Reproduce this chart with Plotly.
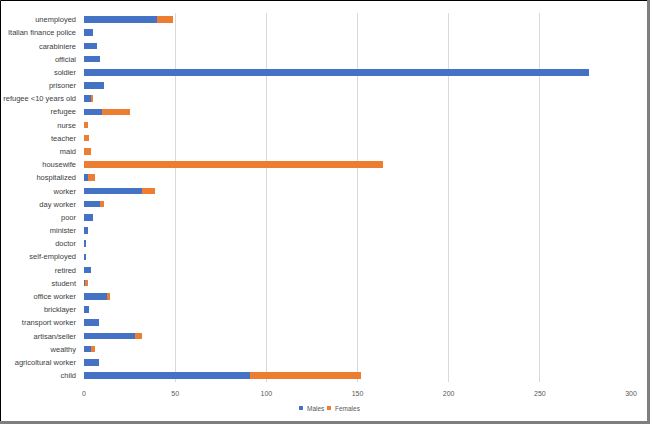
import plotly.graph_objects as go

# categories listed top to bottom as in the chart
CATEGORIES = [
    "unemployed", "Italian finance police", "carabiniere", "official", "soldier",
    "prisoner", "refugee <10 years old", "refugee", "nurse", "teacher", "maid",
    "housewife", "hospitalized", "worker", "day worker", "poor", "minister",
    "doctor", "self-employed", "retired", "student", "office worker",
    "bricklayer", "transport worker", "artisan/seller", "wealthy",
    "agricoltural worker", "child",
]
MALES = [40, 5, 7, 9, 277, 11, 4, 10, 0, 0, 0, 0, 2, 32, 9, 5, 2,
         1, 1, 4, 1, 13, 3, 8, 28, 4, 8, 91]
FEMALES = [9, 0, 0, 0, 0, 0, 1, 15, 2, 3, 4, 164, 4, 7, 2, 0, 0,
           0, 0, 0, 1, 1, 0, 0, 4, 2, 0, 61]
SERIES = ["Males", "Females"]

BLUE = "#4472C4"
ORANGE = "#ED7D31"
FONT = "Liberation Sans Narrow, Liberation Sans, Arial"

fig = go.Figure()
fig.add_trace(go.Bar(y=CATEGORIES, x=MALES, name=SERIES[0], orientation="h",
                     marker=dict(color=BLUE, line=dict(width=0)),
                     showlegend=False))
fig.add_trace(go.Bar(y=CATEGORIES, x=FEMALES, name=SERIES[1], orientation="h",
                     marker=dict(color=ORANGE, line=dict(width=0)),
                     showlegend=False))

# frame round the picture, in paper units of the plot area
W, H = 650, 424
L, R, T, B = 84, 19, 13, 42
pw, ph = W - L - R, H - T - B


def px(x):
    return (x - L) / pw


def py(y):
    return (H - B - y) / ph


frame = [
    (0.5, 0.5, W - 0.5, 0.5, "#000000", 1),
    (0.5, 0.5, 0.5, H - 0.5, "#000000", 1),
    (W - 1.5, 0, W - 1.5, H, "#7F7F7F", 3),
    (0, H - 1.5, W, H - 1.5, "#7F7F7F", 3),
]
shapes = [dict(type="line", xref="paper", yref="paper",
               x0=px(a), y0=py(b), x1=px(c), y1=py(d),
               line=dict(color=col, width=w)) for a, b, c, d, col, w in frame]

# compact excel style legend: tiny square key + label
annotations = []
for name, col, kx in [(SERIES[0], BLUE, 299), (SERIES[1], ORANGE, 327)]:
    shapes.append(dict(type="rect", xref="paper", yref="paper",
                       x0=px(kx), x1=px(kx + 4), y0=py(410), y1=py(406),
                       fillcolor=col, line=dict(width=0)))
    annotations.append(dict(text=name, xref="paper", yref="paper",
                            x=px(kx + 5.5), y=py(408), xanchor="left",
                            yanchor="middle", showarrow=False,
                            font=dict(size=6.5, color="#595959")))

fig.update_layout(
    barmode="stack",
    bargap=0.5,
    width=W, height=H,
    margin=dict(l=L, r=R, t=T, b=B, autoexpand=False),
    paper_bgcolor="white",
    plot_bgcolor="white",
    font=dict(family=FONT, size=7, color="#595959"),
    xaxis=dict(range=[0, 300], dtick=50, showgrid=True, gridcolor="#D9D9D9",
               gridwidth=1, zeroline=False, showline=False, ticks="",
               automargin=False, ticklabelstandoff=6,
               tickfont=dict(size=7, color="#595959")),
    yaxis=dict(autorange="reversed", showgrid=False, showline=False, ticks="",
               automargin=False, ticklabelstandoff=7,
               tickfont=dict(size=7.5, color="#404040")),
    showlegend=False,
    shapes=shapes,
    annotations=annotations,
)

# page has a default 8px body margin, drop it so the figure sits at 0,0
fig.write_html("out.html", config={"displayModeBar": False},
               post_script="document.body.style.margin='0';")
